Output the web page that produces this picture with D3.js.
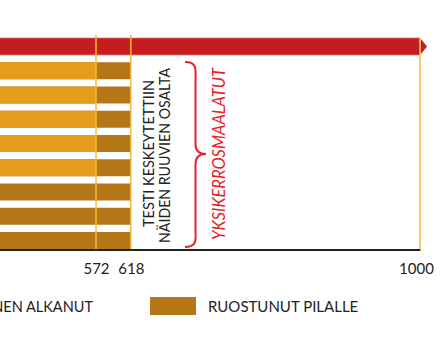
<!DOCTYPE html>
<html>
<head>
<meta charset="utf-8">
<script src="https://cdn.jsdelivr.net/npm/d3@7"></script>
<style>
  body { margin: 0; background: #fff; }
  svg text { font-family: Lato, "Open Sans", sans-serif; }
</style>
</head>
<body>
<div id="chart"></div>
<script>
// rows from top: the reference bar (red, arrow) and eight tested screws
let categories = ["Vertailu", "Ruuvi 1", "Ruuvi 2", "Ruuvi 3", "Ruuvi 4", "Ruuvi 5", "Ruuvi 6", "Ruuvi 7", "Ruuvi 8"];
let alkanut = [1000, 572, 572, 572, 572, 572, 300, 300, 300];   // rust started (hours)
let pilalle = [0, 618, 618, 618, 618, 618, 618, 618, 618];     // ruined (hours)
let tickValues = [572, 618, 1000];
let markLines = [572, 618];
let legendNames = ["RUOSTUMINEN ALKANUT", "RUOSTUNUT PILALLE"];

let svgWidth = 442, svgHeight = 352;

const red = "#c41c1f", orange = "#e39c1b", brown = "#b57618", lineColor = "#f8b93a";

let x = d3.scaleLinear().domain([0, 1000]).range([-337, 420]);
let y = d3.scaleBand().domain(categories).range([38, 249]).paddingInner(0.3).paddingOuter(0);

let svg = d3.select("#chart").append("svg")
    .attr("width", svgWidth)
    .attr("height", svgHeight);

let rows = categories.map(function(c, i) {
    return {name: c, alkanut: alkanut[i], pilalle: pilalle[i], i: i};
});

// brown part (ruined) drawn first, orange (started) on top
svg.selectAll(".bar-pilalle")
    .data(rows.filter(d => d.pilalle > 0))
    .enter()
    .append("rect")
    .attr("class", "bar-pilalle")
    .attr("x", x(0))
    .attr("y", d => y(d.name))
    .attr("width", d => x(d.pilalle) - x(0))
    .attr("height", y.bandwidth())
    .attr("fill", brown);

svg.selectAll(".bar-alkanut")
    .data(rows.filter(d => d.i > 0))
    .enter()
    .append("rect")
    .attr("class", "bar-alkanut")
    .attr("x", x(0))
    .attr("y", d => y(d.name))
    .attr("width", d => x(d.alkanut) - x(0))
    .attr("height", y.bandwidth())
    .attr("fill", orange);

// red reference bar with arrow head
let ref = rows[0];
svg.append("rect")
    .attr("x", x(0))
    .attr("y", y(ref.name))
    .attr("width", x(ref.alkanut) - x(0))
    .attr("height", y.bandwidth())
    .attr("fill", red)
    .attr("stroke", "#e57373")
    .attr("stroke-width", 0.8);

let ay = y(ref.name), ah = y.bandwidth();
svg.append("path")
    .attr("d", "M" + (x(ref.alkanut) + 1) + "," + (ay + 1) +
               "L" + (x(ref.alkanut) + 7) + "," + (ay + ah / 2) +
               "L" + (x(ref.alkanut) + 1) + "," + (ay + ah - 1) + "Z")
    .attr("fill", red);

// vertical marker lines
svg.selectAll(".mark-line")
    .data(markLines)
    .enter()
    .append("line")
    .attr("class", "mark-line")
    .attr("x1", d => x(d))
    .attr("x2", d => x(d))
    .attr("y1", 35)
    .attr("y2", 249)
    .attr("stroke", lineColor)
    .attr("stroke-width", 1.5);

svg.append("line")
    .attr("x1", x(1000))
    .attr("x2", x(1000))
    .attr("y1", y(ref.name))
    .attr("y2", 249)
    .attr("stroke", lineColor)
    .attr("stroke-width", 1.5);

// x axis
let xAxis = d3.axisBottom(x)
    .tickValues(tickValues)
    .tickSize(0)
    .tickSizeOuter(0)
    .tickPadding(14)
    .tickFormat(d3.format("d"));

let gx = svg.append("g")
    .attr("transform", "translate(0,249.5)")
    .call(xAxis);

gx.select(".domain")
    .attr("stroke", "#222")
    .attr("stroke-width", 2);

gx.selectAll("text")
    .attr("font-size", 15)
    .attr("fill", "#222")
    .attr("dx", d => d === 1000 ? -4 : 0);

// annotation (squeezed a bit, the original face is narrower)
let note = svg.append("text")
    .attr("transform", "translate(0,154) rotate(-90)")
    .attr("text-anchor", "middle")
    .attr("font-size", 16)
    .attr("fill", "#222");
note.append("tspan").attr("x", 0.5).attr("y", 153.5)
    .attr("textLength", 147).attr("lengthAdjust", "spacingAndGlyphs")
    .text("TESTI KESKEYTETTIIN");
note.append("tspan").attr("x", -1.5).attr("y", 170)
    .attr("textLength", 175).attr("lengthAdjust", "spacingAndGlyphs")
    .text("NÄIDEN RUUVIEN OSALTA");

// curly brace
let bx = 185, bTop = 62, bBot = 247, bMid = 154, bw = 21;
svg.append("path")
    .attr("d",
        "M" + bx + "," + bTop +
        "C" + (bx + bw * 0.6) + "," + bTop + " " + (bx + bw * 0.5) + "," + (bTop + 8) + " " + (bx + bw * 0.5) + "," + (bTop + 16) +
        "L" + (bx + bw * 0.5) + "," + (bMid - 10) +
        "C" + (bx + bw * 0.5) + "," + (bMid - 3) + " " + (bx + bw * 0.7) + "," + bMid + " " + (bx + bw) + "," + bMid +
        "C" + (bx + bw * 0.7) + "," + bMid + " " + (bx + bw * 0.5) + "," + (bMid + 3) + " " + (bx + bw * 0.5) + "," + (bMid + 10) +
        "L" + (bx + bw * 0.5) + "," + (bBot - 16) +
        "C" + (bx + bw * 0.5) + "," + (bBot - 8) + " " + (bx + bw * 0.6) + "," + bBot + " " + bx + "," + bBot)
    .attr("fill", "none")
    .attr("stroke", "#e8202a")
    .attr("stroke-width", 2);

svg.append("text")
    .attr("transform", "translate(225,154) rotate(-90)")
    .attr("text-anchor", "middle")
    .attr("font-size", 17)
    .attr("font-style", "italic")
    .attr("fill", "#e8202a")
    .attr("textLength", 172)
    .attr("lengthAdjust", "spacingAndGlyphs")
    .text("YKSIKERROSMAALATUT");

// legend
let legendColors = [orange, brown];
let lg = svg.append("g");
// second item anchors the layout; first item sits to its left
let l2 = lg.append("g").attr("transform", "translate(150,297)");
l2.append("rect").attr("width", 46).attr("height", 18).attr("fill", legendColors[1]);
l2.append("text").attr("x", 58).attr("y", 14.5).attr("font-size", 15).attr("fill", "#222").text(legendNames[1]);

let l1 = lg.append("g").attr("transform", "translate(93,297)");
let t1 = l1.append("text").attr("x", 0).attr("y", 14.5).attr("font-size", 14.5)
    .attr("fill", "#222").attr("text-anchor", "end").text(legendNames[0]);
let w1 = t1.node().getComputedTextLength();
l1.append("rect").attr("x", -w1 - 58).attr("width", 46).attr("height", 18).attr("fill", legendColors[0]);
</script>
</body>
</html>
